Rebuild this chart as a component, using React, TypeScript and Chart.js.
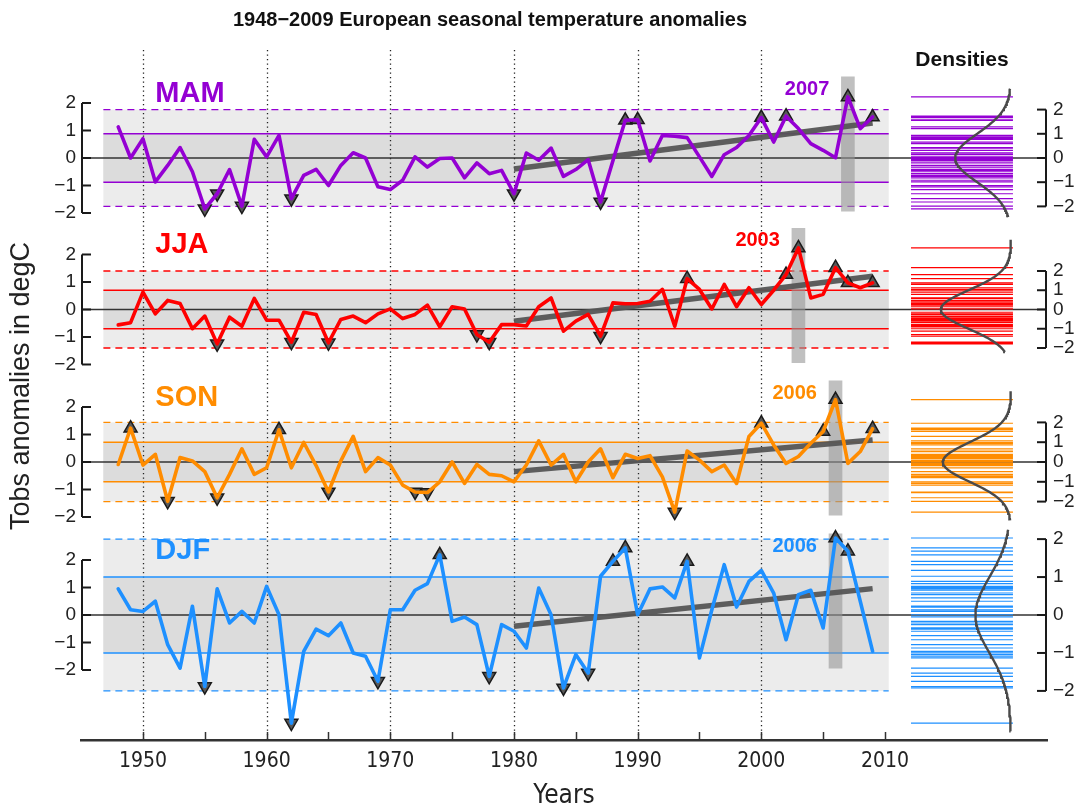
import React, { useEffect, useRef } from 'react';
import { Chart, registerables } from 'chart.js';

Chart.register(...registerables);

// ---------------- data ----------------
const YEARS = [
  1948, 1949, 1950, 1951, 1952, 1953, 1954, 1955, 1956, 1957,
  1958, 1959, 1960, 1961, 1962, 1963, 1964, 1965, 1966, 1967,
  1968, 1969, 1970, 1971, 1972, 1973, 1974, 1975, 1976, 1977,
  1978, 1979, 1980, 1981, 1982, 1983, 1984, 1985, 1986, 1987,
  1988, 1989, 1990, 1991, 1992, 1993, 1994, 1995, 1996, 1997,
  1998, 1999, 2000, 2001, 2002, 2003, 2004, 2005, 2006, 2007,
  2008, 2009,
];

const MAM_VALUES = [
  1.13, 0.0, 0.7, -0.87, -0.27, 0.38, -0.5, -1.85, -1.3, -0.42,
  -1.75, 0.68, 0.04, 0.82, -1.48, -0.63, -0.41, -1.0, -0.27, 0.19,
  0.0, -1.05, -1.15, -0.81, 0.04, -0.33, -0.02, 0.0, -0.72, -0.18,
  -0.57, -0.45, -1.3, 0.18, -0.08, 0.36, -0.67, -0.42, -0.06, -1.6,
  -0.1, 1.37, 1.39, -0.11, 0.82, 0.79, 0.74, 0.04, -0.67, 0.12,
  0.38, 0.82, 1.47, 0.58, 1.52, 1.07, 0.52, 0.28, 0.01, 2.22,
  1.07, 1.49,
];
const JJA_VALUES = [
  -0.56, -0.48, 0.63, -0.16, 0.33, 0.22, -0.7, -0.24, -1.25, -0.28,
  -0.61, 0.4, -0.39, -0.39, -1.19, -0.1, -0.18, -1.21, -0.36, -0.24,
  -0.48, -0.16, 0.02, -0.33, -0.18, 0.16, -0.63, 0.1, 0.02, -0.91,
  -1.19, -0.55, -0.55, -0.6, 0.1, 0.42, -0.79, -0.42, -0.18, -0.97,
  0.24, 0.21, 0.22, 0.3, 0.73, -0.61, 1.12, 0.73, 0.02, 0.91,
  0.1, 0.79, 0.18, 0.7, 1.27, 2.24, 0.42, 0.55, 1.52, 0.97,
  0.79, 0.97,
];
const SON_VALUES = [
  -0.09, 1.23, -0.11, 0.28, -1.43, 0.16, 0.04, -0.35, -1.3, -0.45,
  0.48, -0.45, -0.21, 1.17, -0.21, 0.71, -0.13, -1.09, 0.04, 0.93,
  -0.35, 0.16, -0.11, -0.84, -1.09, -1.11, -0.72, 0.0, -0.78, -0.09,
  -0.45, -0.5, -0.72, -0.11, 0.77, -0.11, 0.28, -0.72, 0.0, 0.48,
  -0.57, 0.28, 0.13, 0.23, -0.54, -1.82, 0.4, 0.07, -0.35, -0.11,
  -0.78, 0.93, 1.41, 0.62, -0.05, 0.2, 0.68, 1.11, 2.27, -0.05,
  0.38, 1.21,
];
const DJF_VALUES = [
  0.95, 0.19, 0.13, 0.5, -1.08, -1.93, 0.32, -2.6, 0.95, -0.29,
  0.13, -0.29, 1.04, 0.01, -3.93, -1.32, -0.51, -0.75, -0.29, -1.38,
  -1.5, -2.41, 0.19, 0.19, 0.9, 1.14, 2.19, -0.23, -0.07, -0.35,
  -2.23, -0.35, -0.59, -1.2, 0.98, 0.01, -2.65, -1.44, -2.11, 1.41,
  1.95, 2.44, 0.01, 0.95, 1.02, 0.62, 1.95, -1.56, 0.19, 1.83,
  0.29, 1.22, 1.62, 0.8, -0.9, 0.74, 0.9, -0.47, 2.8, 2.32,
  0.5, -1.32,
];

const MAM_UP_YEARS = [1989, 1990, 2000, 2002, 2007, 2009];
const MAM_DOWN_YEARS = [1955, 1956, 1958, 1962, 1980, 1987];
const JJA_UP_YEARS = [1994, 2002, 2003, 2006, 2007, 2009];
const JJA_DOWN_YEARS = [1956, 1962, 1965, 1977, 1978, 1987];
const SON_UP_YEARS = [1949, 1961, 2000, 2005, 2006, 2009];
const SON_DOWN_YEARS = [1952, 1956, 1965, 1972, 1973, 1993];
const DJF_UP_YEARS = [1974, 1988, 1989, 1994, 2006, 2007];
const DJF_DOWN_YEARS = [1955, 1962, 1969, 1978, 1984, 1986];

const TREND_YEARS = [1980, 2009];
const MAM_TREND = [-0.4, 1.27];
const JJA_TREND = [-0.43, 1.21];
const SON_TREND = [-0.35, 0.8];
const DJF_TREND = [-0.41, 0.96];

const SEASONS = ['MAM', 'JJA', 'SON', 'DJF'];
const HIGHLIGHT_YEARS = [2007, 2003, 2006, 2006];
const HIGHLIGHT_SPAN = [-1.93, 2.95];
const SEASON_SD = [0.88, 0.7, 0.72, 1.38];
const SEASON_COLORS = ['#9400D3', '#FF0000', '#FF8C00', '#1E90FF'];

const X_TICKS = [1950, 1955, 1960, 1965, 1970, 1975, 1980, 1985, 1990, 1995, 2000, 2005, 2010];
const DOTTED_YEARS = [1950, 1960, 1970, 1980, 1990, 2000];
const Y_TICKS = [-2, -1, 0, 1, 2];
const BG_YEARS = [1946.8, 2010.3];

const TITLE = '1948\u22122009 European seasonal temperature anomalies';
const Y_TITLE = 'Tobs anomalies in degC';

// ---------------- layout / style constants ----------------
const SANS = '"Liberation Sans", Arial, Helvetica, sans-serif';
const NARROW = '"Liberation Sans Narrow", "DejaVu Sans Condensed", "Liberation Sans", sans-serif';
const W = 1081;
const H = 809;
const TOP_PAD = 50;
const L_AXIS_W = 81;
const R_AXIS_W = 34;
const X_AXIS_H = 69;
const X_MIN = 1944.99;
const X_MAX = 2023.1;
const XD_MIN = -0.2927;
const XD_MAX = 7.561;
const RUG_RANGE = [0.813, -0.016];
const CURVE_EXT = 0.3;
const AXIS_RANGES = [
  [-2.327, 3.927],
  [-2.382, 3.182],
  [-2.364, 3.164],
  [-4.545, 3.2],
];

const SEASON_VALUES = [MAM_VALUES, JJA_VALUES, SON_VALUES, DJF_VALUES];
const UP_YEARS = [MAM_UP_YEARS, JJA_UP_YEARS, SON_UP_YEARS, DJF_UP_YEARS];
const DOWN_YEARS = [MAM_DOWN_YEARS, JJA_DOWN_YEARS, SON_DOWN_YEARS, DJF_DOWN_YEARS];
const TRENDS = [MAM_TREND, JJA_TREND, SON_TREND, DJF_TREND];

const fmtTick = (v: any) => {
  const n = Number(v);
  return n < 0 ? '\u2212' + Math.abs(n) : String(n);
};

function normPdf(v: number, sd: number) {
  return Math.exp(-(v * v) / (2 * sd * sd)) / (sd * Math.sqrt(2 * Math.PI));
}

function buildDatasets() {
  const ds: any[] = [];
  SEASONS.forEach((s, i) => {
    const yID = 'yL_' + s;
    const vals = SEASON_VALUES[i];
    const color = SEASON_COLORS[i];
    const sd = SEASON_SD[i];
    const refLine = (v: number, dash: number[]) => ({
      type: 'line',
      xAxisID: 'x',
      yAxisID: yID,
      data: [{ x: BG_YEARS[0], y: v }, { x: BG_YEARS[1], y: v }],
      borderColor: color,
      borderWidth: 1.4,
      borderDash: dash,
      pointRadius: 0,
      order: 7,
    });
    ds.push(refLine(sd, []), refLine(-sd, []));
    ds.push(refLine(2 * sd, [7, 5]), refLine(-2 * sd, [7, 5]));

    ds.push({
      type: 'bar',
      xAxisID: 'x',
      yAxisID: yID,
      data: [{ x: HIGHLIGHT_YEARS[i], y: HIGHLIGHT_SPAN }],
      backgroundColor: 'rgba(150,150,150,0.6)',
      borderWidth: 0,
      barThickness: 13,
      grouped: false,
      order: 6,
    });

    ds.push({
      type: 'line',
      xAxisID: 'x',
      yAxisID: yID,
      data: TREND_YEARS.map((yr, k) => ({ x: yr, y: TRENDS[i][k] })),
      borderColor: 'rgba(85,85,85,0.95)',
      borderWidth: 5.5,
      pointRadius: 0,
      order: 5,
    });

    const rug: any[] = [];
    vals.forEach((v) => {
      rug.push({ x: RUG_RANGE[0], y: v }, { x: RUG_RANGE[1], y: v }, { x: RUG_RANGE[1], y: null });
    });
    ds.push({
      type: 'line',
      xAxisID: 'xd',
      yAxisID: yID,
      data: rug,
      borderColor: color,
      borderWidth: 1.2,
      pointRadius: 0,
      spanGaps: false,
      order: 4,
    });

    const tri = (years: number[], rot: number) => ({
      type: 'scatter',
      xAxisID: 'x',
      yAxisID: yID,
      data: years.map((yr) => ({ x: yr, y: vals[YEARS.indexOf(yr)] })),
      pointStyle: 'triangle',
      pointRadius: 7.5,
      pointRotation: rot,
      pointBackgroundColor: '#595959',
      pointBorderColor: '#1a1a1a',
      pointBorderWidth: 1.5,
      showLine: false,
      order: 3,
    });
    ds.push(tri(UP_YEARS[i], 0), tri(DOWN_YEARS[i], 180));

    ds.push({
      type: 'line',
      xAxisID: 'x',
      yAxisID: yID,
      data: YEARS.map((yr, k) => ({ x: yr, y: vals[k] })),
      borderColor: color,
      borderWidth: 3.6,
      borderJoinStyle: 'round',
      borderCapStyle: 'round',
      pointRadius: 0,
      tension: 0,
      order: 1,
    });

    const lo = Math.min(...vals) - CURVE_EXT;
    const hi = Math.max(...vals) + CURVE_EXT;
    const curve: any[] = [];
    for (let k = 0; k <= 120; k++) {
      const v = lo + ((hi - lo) * k) / 120;
      curve.push({ x: normPdf(v, sd), y: v });
    }
    ds.push({
      type: 'line',
      xAxisID: 'xd',
      yAxisID: yID,
      data: curve,
      borderColor: '#4a4a4a',
      borderWidth: 2.4,
      pointRadius: 0,
      tension: 0,
      order: 0,
    });
  });
  return ds;
}

function buildScales() {
  const scales: any = {
    x: {
      type: 'linear',
      position: 'bottom',
      min: X_MIN,
      max: X_MAX,
      offset: false,
      afterBuildTicks: (s: any) => {
        s.ticks = X_TICKS.map((v) => ({ value: v }));
      },
      afterFit: (s: any) => {
        s.height = X_AXIS_H;
      },
      grid: { display: false, drawTicks: false },
      border: { display: true, color: '#333', width: 2.5 },
      ticks: {
        autoSkip: false,
        maxRotation: 0,
        padding: 9,
        color: '#222',
        font: { family: NARROW, size: 21 },
        callback: (v: any) => (Number(v) % 10 === 0 ? String(v) : ''),
      },
      title: {
        display: true,
        text: 'Years',
        color: '#222',
        font: { family: NARROW, size: 26, lineHeight: 1 },
        padding: { top: 0, bottom: 0 },
      },
    },
    xd: {
      type: 'linear',
      position: 'bottom',
      axis: 'x',
      display: false,
      reverse: true,
      min: XD_MIN,
      max: XD_MAX,
      offset: false,
    },
  };
  SEASONS.forEach((s, i) => {
    const [mn, mx] = AXIS_RANGES[i];
    const sd = SEASON_SD[i];
    const common = {
      type: 'linear',
      axis: 'y',
      stackWeight: mx - mn,
      afterBuildTicks: (sc: any) => {
        sc.ticks = Y_TICKS.map((v) => ({ value: v }));
      },
      grid: { display: false, drawTicks: false },
      border: { display: false },
    };
    scales['yL_' + s] = {
      ...common,
      position: 'left',
      stack: 'leftStack',
      weight: 4 - i,
      min: mn,
      max: mx,
      afterFit: (sc: any) => {
        sc.width = L_AXIS_W;
      },
      ticks: { autoSkip: false, padding: 5, color: '#222', font: { family: SANS, size: 19 }, callback: fmtTick },
    };
    scales['yR_' + s] = {
      ...common,
      position: 'right',
      stack: 'rightStack',
      weight: i + 1,
      min: mn / sd,
      max: mx / sd,
      afterFit: (sc: any) => {
        sc.width = R_AXIS_W;
      },
      ticks: { autoSkip: false, padding: 6, color: '#222', font: { family: SANS, size: 19 }, callback: fmtTick },
    };
  });
  return scales;
}

function drawBracket(ctx: any, scale: any, x: number, dir: number) {
  const top = scale.getPixelForValue(2);
  const bot = scale.getPixelForValue(-2);
  ctx.beginPath();
  ctx.moveTo(x, top);
  ctx.lineTo(x, bot);
  ctx.stroke();
  Y_TICKS.forEach((v) => {
    const py = scale.getPixelForValue(v);
    ctx.beginPath();
    ctx.moveTo(x, py);
    ctx.lineTo(x + dir * 9, py);
    ctx.stroke();
  });
}

const decorPlugin = {
  id: 'decor',
  beforeDatasetsDraw(chart: any) {
    const { ctx, chartArea, scales } = chart;
    const xs = scales.x;
    ctx.save();
    const bx0 = xs.getPixelForValue(BG_YEARS[0]);
    const bx1 = xs.getPixelForValue(BG_YEARS[1]);
    SEASONS.forEach((s, i) => {
      const ys = scales['yL_' + s];
      const sd = SEASON_SD[i];
      const t2 = ys.getPixelForValue(2 * sd);
      const b2 = ys.getPixelForValue(-2 * sd);
      ctx.fillStyle = '#ececec';
      ctx.fillRect(bx0, t2, bx1 - bx0, b2 - t2);
      const t1 = ys.getPixelForValue(sd);
      const b1 = ys.getPixelForValue(-sd);
      ctx.fillStyle = '#dcdcdc';
      ctx.fillRect(bx0, t1, bx1 - bx0, b1 - t1);
    });
    // dotted decade lines
    ctx.strokeStyle = '#222';
    ctx.lineWidth = 1.3;
    ctx.setLineDash([1.3, 3.2]);
    DOTTED_YEARS.forEach((yr) => {
      const px = Math.round(xs.getPixelForValue(yr)) + 0.5;
      ctx.beginPath();
      ctx.moveTo(px, chartArea.top);
      ctx.lineTo(px, chartArea.bottom);
      ctx.stroke();
    });
    ctx.setLineDash([]);
    // zero lines
    ctx.strokeStyle = '#333';
    ctx.lineWidth = 1.6;
    SEASONS.forEach((s) => {
      const py = scales['yL_' + s].getPixelForValue(0);
      ctx.beginPath();
      ctx.moveTo(chartArea.left, py);
      ctx.lineTo(chartArea.right, py);
      ctx.stroke();
    });
    ctx.restore();
  },
  afterDatasetsDraw(chart: any) {
    const { ctx, chartArea, scales } = chart;
    const xs = scales.x;
    ctx.save();
    ctx.setLineDash([]);
    // x ticks pointing up
    ctx.strokeStyle = '#333';
    ctx.lineWidth = 1.5;
    X_TICKS.forEach((v) => {
      const px = Math.round(xs.getPixelForValue(v)) + 0.5;
      ctx.beginPath();
      ctx.moveTo(px, chartArea.bottom);
      ctx.lineTo(px, chartArea.bottom - 8);
      ctx.stroke();
    });
    // brackets
    ctx.strokeStyle = '#1a1a1a';
    ctx.lineWidth = 2;
    SEASONS.forEach((s) => {
      drawBracket(ctx, scales['yL_' + s], chartArea.left + 1, 1);
      drawBracket(ctx, scales['yR_' + s], chartArea.right - 1, -1);
    });
    // season labels and highlight-year labels
    SEASONS.forEach((s, i) => {
      const ys = scales['yL_' + s];
      ctx.fillStyle = SEASON_COLORS[i];
      ctx.font = `bold 29px ${SANS}`;
      ctx.textAlign = 'left';
      ctx.textBaseline = 'middle';
      ctx.fillText(s, xs.getPixelForValue(1951), ys.getPixelForValue(2.33));
      ctx.font = `bold 20px ${SANS}`;
      ctx.textAlign = 'right';
      ctx.fillText(String(HIGHLIGHT_YEARS[i]), xs.getPixelForValue(HIGHLIGHT_YEARS[i] - 1.5), ys.getPixelForValue(2.5));
    });
    // titles
    ctx.fillStyle = '#111';
    ctx.textAlign = 'center';
    ctx.textBaseline = 'middle';
    ctx.font = `bold 20px ${SANS}`;
    ctx.fillText(TITLE, 490, 20);
    ctx.font = `bold 21px ${SANS}`;
    ctx.fillText('Densities', 962, 60);
    ctx.translate(22, 386);
    ctx.rotate(-Math.PI / 2);
    ctx.font = `27px ${SANS}`;
    ctx.fillStyle = '#222';
    ctx.fillText(Y_TITLE, 0, 0);
    ctx.restore();
  },
};

export default function App() {
  const canvasRef = useRef<HTMLCanvasElement | null>(null);
  useEffect(() => {
    const canvas = canvasRef.current;
    if (!canvas) return;
    const chart = new Chart(canvas, {
      type: 'line',
      data: { datasets: buildDatasets() },
      options: {
        responsive: false,
        animation: false,
        events: [],
        layout: { padding: { top: TOP_PAD, left: 0, right: 0, bottom: 0 } },
        plugins: {
          legend: { display: false },
          tooltip: { enabled: false },
          title: { display: false },
        },
        scales: buildScales(),
      },
      plugins: [decorPlugin],
    } as any);
    return () => chart.destroy();
  }, []);
  return (
    <div style={{ position: 'absolute', left: 0, top: 0, width: W, height: H, background: '#fff' }}>
      <canvas ref={canvasRef} width={W} height={H} style={{ display: 'block' }} />
    </div>
  );
}
